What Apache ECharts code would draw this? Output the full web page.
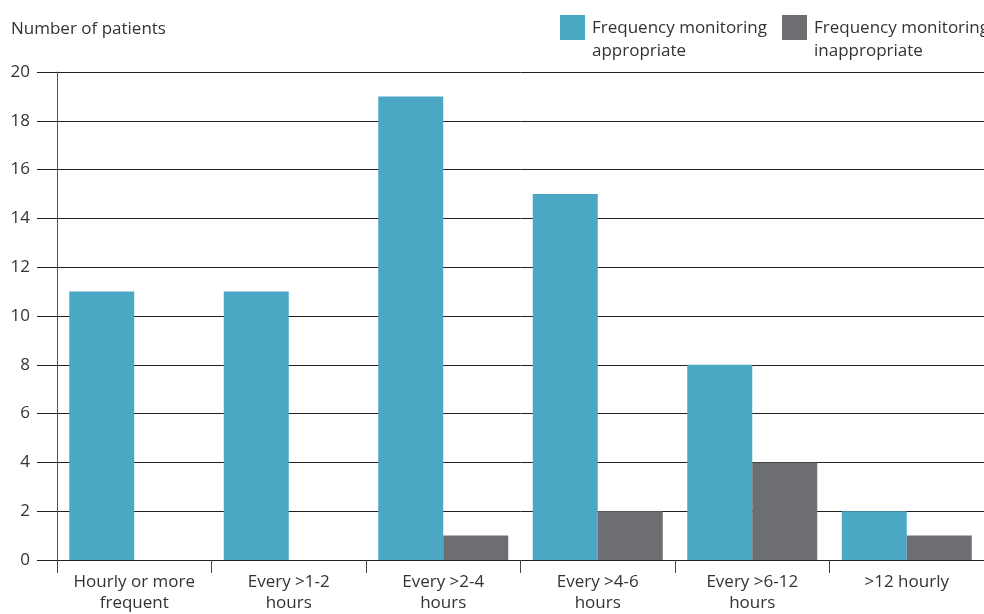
<!DOCTYPE html>
<html>
<head>
<meta charset="utf-8">
<script src="https://cdn.jsdelivr.net/npm/echarts@6/dist/echarts.min.js"></script>
<style>
html,body{margin:0;padding:0;background:#fff;}
#chart{width:984px;height:614px;}
</style>
</head>
<body>
<div id="chart"></div>
<script>
// data
var categories = ['Hourly or more\nfrequent', 'Every >1-2\nhours', 'Every >2-4\nhours', 'Every >4-6\nhours', 'Every >6-12\nhours', '>12 hourly'];
var appropriate = [11, 11, 19, 15, 8, 2];
var inappropriate = [0, 0, 1, 2, 4, 1];
var seriesNames = ['Frequency monitoring\nappropriate', 'Frequency monitoring\ninappropriate'];
var seriesColors = ['#4ba8c4', '#6d6e71'];
var yTicks = {min: 0, max: 20, step: 2};

var FONT = '"Open Sans", "Noto Sans", sans-serif';
var TXT = '#333';
var chart = echarts.init(document.getElementById('chart'));

// legend drawn by hand: icon sits next to the first line of a two-line name
var legendX = [560, 782];
var legendItems = [];
seriesNames.forEach(function (name, i) {
    legendItems.push({
        type: 'rect',
        shape: {x: legendX[i], y: 15, width: 25, height: 25},
        style: {fill: seriesColors[i]}
    });
    legendItems.push({
        type: 'text',
        x: legendX[i] + 32, y: 17,
        style: {
            text: name, fontFamily: FONT, fontSize: 17, lineHeight: 23,
            fill: TXT, verticalAlign: 'top'
        }
    });
});

var option = {
    animation: false,
    title: {
        text: 'Number of patients',
        left: 6, top: 16,
        textStyle: {fontFamily: FONT, fontSize: 17, fontWeight: 'normal', color: TXT}
    },
    graphic: legendItems,
    grid: {left: 57, top: 72, width: 933, height: 493, containLabel: false},
    xAxis: {
        type: 'category',
        data: categories,
        axisLine: {lineStyle: {color: '#231f20', width: 1}},
        axisTick: {show: true, length: 13, lineStyle: {color: '#444'}},
        axisLabel: {
            interval: 0, margin: 12,
            fontFamily: FONT, fontSize: 17, color: TXT, lineHeight: 21
        }
    },
    yAxis: {
        type: 'value',
        min: yTicks.min, max: yTicks.max, interval: yTicks.step,
        axisLine: {show: true, lineStyle: {color: '#555', width: 1}},
        axisTick: {show: true, length: 20, lineStyle: {color: '#231f20'}},
        splitLine: {lineStyle: {color: '#231f20', width: 1}},
        axisLabel: {margin: 27, fontFamily: FONT, fontSize: 17, color: TXT}
    },
    series: [
        {
            name: seriesNames[0],
            type: 'bar',
            data: appropriate,
            barWidth: 65,
            barGap: '0%',
            itemStyle: {color: seriesColors[0]}
        },
        {
            name: seriesNames[1],
            type: 'bar',
            data: inappropriate,
            barWidth: 65,
            barGap: '0%',
            itemStyle: {color: seriesColors[1]}
        }
    ]
};
chart.setOption(option);
</script>
</body>
</html>
